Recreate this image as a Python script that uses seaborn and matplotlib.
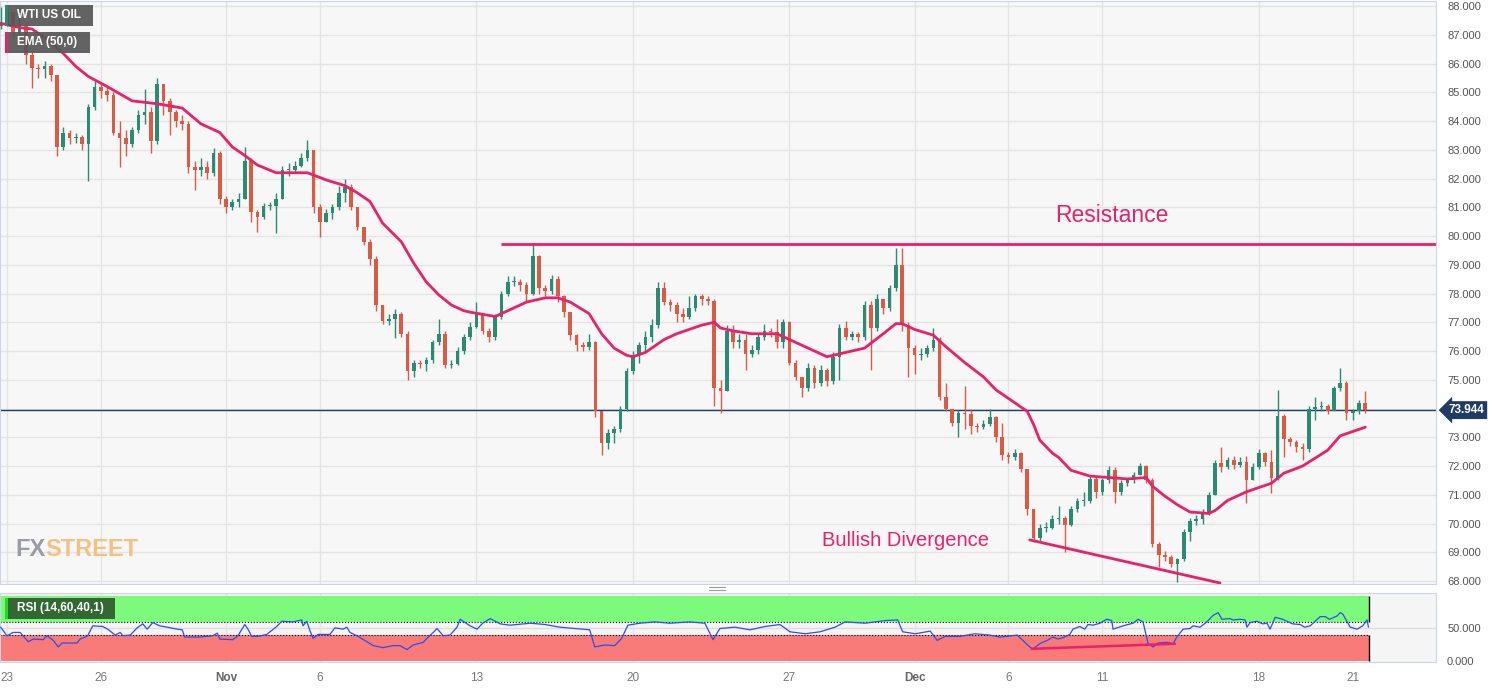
import numpy as np
import pandas as pd
import seaborn as sns
import matplotlib.pyplot as plt
from matplotlib.patches import Rectangle
from matplotlib.lines import Line2D
from matplotlib import font_manager

# ---- data ----
bars_per_day = 5
day_labels = ["23", "26", "Nov", "6", "13", "20", "27", "Dec", "6", "11", "18", "21"]
day_offsets = [0, 3, 7, 10, 15, 20, 25, 29, 32, 35, 40, 43]

first_open = 87.3
closes = [
    87.4, 87.8, 87.1, 87.3, 86.3, 85.85, 85.8, 85.9, 85.6, 83.1,
    83.6, 83.4, 83.45, 83.2, 84.5, 85.2, 85.05, 84.9, 83.6, 83.4,
    83.2, 83.7, 84.2, 84.3, 83.3, 85.3, 84.7, 84.3, 84.0, 83.9,
    82.4, 82.3, 82.4, 82.2, 82.9, 81.3, 81.0, 81.2, 81.3, 82.6,
    80.85, 80.65, 81.05, 81.05, 81.3, 82.3, 82.3, 82.45, 82.7, 83.0,
    81.0, 80.5, 80.8, 81.0, 81.5, 81.7, 81.0, 80.3, 79.8, 79.2,
    77.6, 77.05, 77.1, 77.3, 76.6, 75.3, 75.6, 75.55, 75.7, 76.3,
    76.6, 75.5, 75.55, 76.0, 76.5, 76.85, 77.3, 76.7, 76.5, 77.2,
    78.0, 78.4, 78.4, 78.3, 78.0, 79.3, 78.2, 78.1, 78.5, 77.9,
    77.35, 76.55, 76.2, 76.15, 76.3, 73.9, 72.8, 73.15, 73.3, 74.0,
    75.3, 75.85, 76.2, 76.5, 76.9, 78.2, 77.7, 77.6, 77.3, 77.2,
    77.5, 77.9, 77.8, 77.75, 74.7, 74.6, 76.7, 76.3, 76.4, 75.9,
    76.05, 76.5, 76.7, 76.65, 76.3, 77.0, 75.6, 75.1, 74.7, 75.4,
    74.9, 75.35, 74.95, 75.8, 76.8, 76.5, 76.6, 76.5, 77.6, 76.8,
    77.8, 77.5, 78.2, 79.0, 76.9, 76.1, 75.85, 75.9, 76.1, 76.4,
    74.4, 74.0, 73.5, 73.85, 73.8, 73.4, 73.35, 73.45, 73.7, 73.0,
    72.4, 72.3, 72.45, 71.9, 70.5, 69.5, 69.85, 69.85, 70.15, 70.2,
    69.95, 70.5, 70.8, 70.8, 71.55, 71.1, 71.5, 71.85, 71.1, 71.4,
    71.5, 71.7, 72.0, 71.5, 69.3, 68.9, 68.85, 68.6, 68.75, 69.7,
    70.1, 70.15, 70.4, 71.0, 72.1, 71.95, 72.2, 72.05, 72.15, 71.5,
    71.95, 72.45, 72.15, 71.6, 73.75, 72.95, 72.85, 72.65, 72.6, 74.0,
    74.05, 74.1, 73.9, 74.7, 74.9, 73.85, 73.9, 74.2, 73.944,
]
highs = [
    87.95, 88.0, 87.8, 87.95, 87.4, 86.4, 86.0, 86.1, 86.0, 85.6,
    83.8, 83.7, 83.6, 83.5, 84.6, 85.4, 85.3, 85.2, 85.0, 84.0,
    83.7, 83.8, 84.4, 85.1, 84.5, 85.5, 85.3, 84.8, 84.4, 84.2,
    84.0, 82.6, 82.7, 82.6, 83.05, 82.95, 81.4, 81.3, 81.5, 83.1,
    82.7, 80.9, 81.15, 81.2, 81.5, 82.45, 82.55, 82.6, 82.9, 83.35,
    83.0, 81.1, 80.95, 81.1, 81.75, 82.0, 81.8, 81.0, 80.3, 79.9,
    79.3, 77.6, 77.3, 77.45, 77.35, 76.7, 75.7, 75.7, 75.8, 76.4,
    77.1, 76.7, 75.7, 76.15, 76.6, 77.0, 77.7, 77.3, 76.8, 77.3,
    78.1, 78.6, 78.6, 78.5, 78.4, 79.7, 79.35, 78.3, 78.65, 78.6,
    77.95, 77.3, 76.6, 76.3, 76.6, 76.35, 73.9, 73.3, 73.4, 74.1,
    75.4, 76.0, 76.3, 76.7, 77.1, 78.4, 78.4, 77.8, 77.7, 77.5,
    77.9, 78.0, 78.0, 77.9, 77.8, 75.0, 76.9, 76.9, 76.6, 76.6,
    76.2, 76.6, 76.95, 76.8, 77.1, 77.1, 77.05, 75.7, 75.1, 75.6,
    75.5, 75.5, 75.4, 75.95, 76.95, 77.05, 76.7, 76.65, 77.75, 77.75,
    78.0, 77.8, 78.3, 79.6, 79.6, 77.0, 76.2, 76.1, 76.2, 76.8,
    76.5, 74.9, 74.0, 73.95, 74.8, 73.95, 73.5, 73.6, 74.0, 73.75,
    73.5, 72.5, 72.6, 72.5, 71.9, 70.5, 70.0, 70.05, 70.3, 70.6,
    70.25, 70.6, 70.9, 71.1, 71.7, 71.65, 71.6, 72.0, 71.95, 71.5,
    71.6, 71.8, 72.1, 72.05, 71.6, 69.35, 69.05, 68.9, 68.8, 69.8,
    70.2, 70.3, 70.5, 71.1, 72.2, 72.65, 72.3, 72.35, 72.3, 72.35,
    72.1, 72.6, 72.5, 72.55, 74.65, 73.8, 73.0, 72.9, 72.8, 74.1,
    74.4, 74.25, 74.15, 74.8, 75.4, 74.95, 74.0, 74.3, 74.6,
]
lows = [
    87.2, 87.3, 86.9, 86.8, 86.0, 85.15, 85.5, 85.5, 85.4, 82.8,
    83.0, 83.2, 83.25, 83.0, 81.9, 84.4, 84.8, 84.7, 83.5, 82.4,
    82.8, 83.1, 83.6, 83.9, 82.9, 83.2, 84.2, 83.5, 83.8, 83.7,
    82.2, 81.6, 82.1, 82.0, 82.1, 81.1, 80.8, 80.9, 81.0, 81.3,
    80.5, 80.15, 80.6, 80.9, 80.1, 81.3, 82.1, 82.2, 82.4, 82.6,
    80.8, 79.95, 80.5, 80.6, 80.9, 81.2, 80.9, 80.2, 79.7, 79.0,
    77.4, 76.95, 76.9, 76.45, 76.5, 75.0, 75.1, 75.4, 75.3, 75.6,
    76.2, 75.4, 75.4, 75.5, 75.9, 76.4, 76.8, 76.6, 76.3, 76.4,
    77.1, 77.9, 78.25, 78.1, 77.7, 77.95, 78.0, 77.9, 78.0, 77.7,
    77.2, 76.4, 76.0, 76.0, 76.05, 73.7, 72.4, 72.6, 72.8, 73.2,
    73.9, 75.2, 75.6, 76.0, 76.3, 76.8, 77.6, 77.4, 77.0, 77.0,
    77.1, 77.4, 77.6, 77.6, 74.1, 73.85, 74.6, 76.1, 76.1, 75.35,
    75.8, 75.9, 76.4, 76.5, 76.1, 76.1, 75.5, 75.0, 74.4, 74.6,
    74.7, 74.8, 74.8, 74.85, 75.0, 76.4, 76.4, 76.3, 76.4, 75.35,
    76.7, 77.3, 77.4, 78.1, 76.7, 75.1, 75.2, 75.7, 75.8, 76.0,
    74.3, 73.9, 73.4, 73.0, 73.3, 73.1, 73.2, 73.3, 73.4, 72.85,
    72.2, 72.1, 72.2, 71.8, 70.3, 69.35, 69.4, 69.7, 69.8, 70.0,
    69.0, 69.9, 70.4, 70.6, 70.7, 70.9, 71.0, 71.4, 70.7, 71.0,
    71.3, 71.4, 71.7, 71.4, 69.2, 68.5, 68.7, 68.5, 67.95, 68.7,
    69.4, 69.95, 70.0, 70.3, 71.0, 71.8, 71.9, 71.9, 71.95, 70.7,
    71.5, 71.9, 72.0, 71.05, 71.5, 72.3, 72.7, 72.5, 72.2, 72.5,
    73.6, 73.9, 73.8, 73.9, 74.6, 73.6, 73.6, 73.8, 73.85,
]

# EMA(50) as drawn, sampled along the curve (bar index, price)
ema_idx = [0, 3, 5, 7, 10, 12, 14, 17, 21, 25, 29, 32, 35, 37, 39, 41, 44, 47, 49, 52, 55,
           57, 59, 61, 64, 66, 68, 70, 72, 74, 75, 79, 82, 84, 87, 89, 91, 94, 96, 98, 100,
           101, 103, 106, 108, 110, 112, 114, 115, 117, 120, 124, 126, 129, 132, 134, 138, 141,
           143, 144, 146, 149, 151, 154, 157, 159, 162, 164, 165, 166, 168, 169, 171, 174, 177,
           180, 183, 184, 186, 188, 190, 193, 194, 196, 199, 203, 205, 208, 212, 214, 216, 218]
ema_val = [87.4, 87.25, 87.2, 86.9, 86.35, 85.9, 85.55, 85.2, 84.7, 84.6, 84.45, 83.9, 83.6,
           83.1, 82.8, 82.47, 82.2, 82.2, 82.2, 81.95, 81.75, 81.5, 81.2, 80.45, 79.8, 79.05,
           78.4, 77.95, 77.6, 77.4, 77.35, 77.2, 77.5, 77.7, 77.85, 77.85, 77.7, 77.3, 76.6,
           76.1, 75.85, 75.8, 75.95, 76.4, 76.6, 76.75, 76.9, 77.0, 76.8, 76.7, 76.6, 76.6,
           76.4, 76.1, 75.8, 75.9, 76.1, 76.6, 76.95, 76.95, 76.75, 76.55, 76.15, 75.6, 75.1,
           74.65, 74.2, 73.9, 73.45, 72.9, 72.45, 72.3, 71.85, 71.65, 71.6, 71.55, 71.6, 71.3,
           70.95, 70.65, 70.4, 70.35, 70.45, 70.8, 71.1, 71.4, 71.75, 72.0, 72.55, 73.05, 73.2,
           73.35]

# RSI(14) line (bar index, value)
rsi_idx = [0, 1, 2, 3.1, 4.4, 5.2, 6.8, 7.4, 8.4, 9.2, 9.8, 12.2, 12.7, 13.5, 13.9, 14.7, 16.3,
           17.1, 18.3, 19.1, 19.5, 20.7, 21.8, 22.7, 23.4, 24.3, 25.4, 26.6, 28.2, 29.0, 29.4,
           31.8, 33.9, 34.6, 35.0, 37.1, 37.9, 39.0, 39.5, 40.1, 41.1, 42.5, 44.1, 44.9, 46.7,
           48.1, 48.3, 48.9, 49.4, 49.9, 50.7, 52.6, 53.4, 54.7, 55.3, 55.8, 57.1, 58.5, 59.5,
           61.1, 62.7, 63.8, 64.9, 65.9, 67.5, 68.3, 69.1, 69.7, 70.7, 71.8, 72.9, 73.4, 75.0,
           76.1, 77.0, 78.2, 79.8, 81.4, 84.6, 87.0, 89.3, 91.7, 94.1, 94.9, 96.5, 98.1, 99.2,
           100.2, 102.1, 104.5, 106.9, 110.1, 112.5, 113.8, 114.9, 117.3, 119.7, 122.1, 124.5,
           126.1, 128.5, 130.9, 133.3, 134.9, 138.1, 141.3, 143.3, 144.1, 146.1, 148.5, 149.6,
           150.9, 153.2, 155.6, 158.0, 159.6, 160.8, 162.4, 163.3, 164.4, 164.9, 166.0, 167.2,
           168.1, 168.9, 169.7, 170.8, 171.3, 172.4, 173.2, 173.7, 174.5, 175.6, 176.7, 177.5,
           177.7, 179.3, 180.9, 181.7, 182.5, 183.3, 184.1, 184.9, 186.3, 187.3, 187.9, 188.9,
           190.0, 190.5, 191.6, 192.7, 193.7, 194.5, 195.1, 196.4, 196.9, 198.0, 198.8, 199.1,
           199.6, 200.7, 201.6, 202.3, 202.8, 203.6, 204.8, 206.4, 207.6, 208.3, 209.2, 210.8,
           211.6, 212.3, 213.5, 214.0, 214.4, 215.6, 216.7, 217.6, 218.3, 218.5]
rsi_val = [52, 39, 44, 44, 30, 34, 33, 39, 32, 22, 28, 28, 34, 37, 39, 54, 53,
           49, 40, 44, 39, 40, 51, 57, 49, 59, 54, 52, 49, 48, 37,
           37, 39, 43, 34, 33, 39, 56, 49, 38, 38, 41, 53, 61, 60,
           63, 54, 61, 47, 35, 41, 41, 51, 49, 52, 44, 38, 30, 24,
           21, 24, 24, 18, 25, 29, 37, 44, 50, 39, 40, 52, 64, 54,
           49, 58, 65, 57, 55, 58, 56, 52, 50, 48, 22, 25, 24, 35,
           55, 58, 60, 58, 60, 58, 33, 50, 52, 48, 53, 56,
           45, 42, 45, 52, 60, 58, 62, 63, 45, 42, 46, 32,
           38, 38, 42, 40, 37, 38, 40, 32, 22, 19, 27, 32,
           37, 34, 36, 41, 49, 53, 49, 56, 55, 58, 64, 62,
           49, 54, 58, 64, 60, 27, 22, 28, 29, 27, 37, 49,
           50, 54, 52, 60, 70, 74, 64, 65, 63, 64, 63, 52,
           59, 61, 57, 58, 49, 67, 64, 57, 56, 52, 54, 68,
           68, 64, 69, 74, 72, 52, 49, 54, 63, 52]

last_price = 73.944
resistance_level = 79.72
resistance_start = 80
div_price_idx = [164.4, 194.8]
div_price_val = [69.43, 67.93]
div_rsi_idx = [164.7, 187.6]
div_rsi_val = [19.2, 26.8]
rsi_upper, rsi_lower = 60, 40

# ---- styling ----
sns.set_style("white")
plt.rcParams['font.family'] = ['Liberation Sans', 'DejaVu Sans']

GREEN = "#2b8a72"
RED = "#da5b45"
PINK = "#e9206a"
NAVY = "#1f3b66"
GRID = "#e4e4e4"
SPINE = "#cdd4e4"

W, H = 1501, 688
fig = plt.figure(figsize=(W / 100, H / 100), dpi=100)
fig.patch.set_facecolor("white")


def fx(px):
    return px / W


def fy(py):
    return 1 - py / H


ax = fig.add_axes([0, fy(584), fx(1436), fy(1) - fy(584)])
ax2 = fig.add_axes([0, fy(662), fx(1436), fy(593) - fy(662)])
x_lo, x_hi = -0.11, 229.3

n = len(closes)
idx = np.arange(n)
c = np.array(closes)
o = np.array([first_open] + closes[:-1])
hi = np.array(highs)
lo = np.array(lows)
colors = np.where(c >= o, GREEN, RED)

ax.set_facecolor("#f7f7f7")
ax.vlines(idx, lo, hi, colors=colors, lw=1, zorder=3)
ax.bar(idx, np.maximum(np.abs(c - o), 0.03), bottom=np.minimum(o, c), width=0.58,
       color=colors, linewidth=0, zorder=4)

sns.lineplot(x=ema_idx, y=ema_val, ax=ax, color=PINK, lw=2, zorder=5,
             solid_joinstyle="round", solid_capstyle="round")
ax.hlines(resistance_level, resistance_start, x_hi, color=PINK, lw=2, zorder=5)
ax.plot(div_price_idx, div_price_val, color=PINK, lw=2, zorder=5)
ax.axhline(last_price, color=NAVY, lw=1, zorder=2)

ax.text(177.5, 80.7, "Resistance", color=PINK, fontsize=16.5, ha="center", va="center")
ax.text(144.5, 69.4, "Bullish Divergence", color=PINK, fontsize=14.5, ha="center", va="center")

tick_pos = [d * bars_per_day + 1 for d in day_offsets]
ax.set_xlim(x_lo, x_hi)
ax.set_ylim(67.896, 88.174)
ax.set_xticks(tick_pos)
ax.tick_params(axis="x", labelbottom=False, length=0)
ax.yaxis.tick_right()
price_ticks = list(range(68, 89))
ax.set_yticks(price_ticks)
# the 74 label sits under the last-price tag, as in the source chart
ax.set_yticklabels(["" if v == 74 else f"{v:.3f}" for v in price_ticks])
ax.tick_params(axis="y", length=0, pad=8, labelsize=8, labelcolor="#555555")
ax.grid(True, color=GRID, lw=1)
ax.set_axisbelow(True)
ax.set_xlabel("")
ax.set_ylabel("")
for s in ax.spines.values():
    s.set_color(SPINE)

ax.annotate(f"{last_price:.3f}", xy=(1, last_price), xycoords=("axes fraction", "data"),
            xytext=(9, 0), textcoords="offset points", ha="left", va="center",
            color="white", fontsize=8.5, fontweight="bold", annotation_clip=False,
            bbox=dict(boxstyle="larrow,pad=0.25", fc=NAVY, ec="none"))

# ---- RSI panel ----
ax2.set_facecolor("#f5f5f5")
band_end = 218.6
ax2.fill_between([x_lo, band_end], rsi_upper, 100, color="#7cfa7c", lw=0, zorder=1)
ax2.fill_between([x_lo, band_end], 0, rsi_lower, color="#f87b7a", lw=0, zorder=1)
ax2.hlines([rsi_upper, rsi_lower], x_lo, band_end, colors="black", lw=0.8,
           linestyles=":", zorder=2)
ax2.vlines(band_end, rsi_upper, 100, colors="black", lw=1, zorder=2)
ax2.vlines(band_end, 0, rsi_lower, colors="black", lw=1, zorder=2)
ax2.axhline(50, color="#dddddd", lw=1, zorder=0)
sns.lineplot(x=rsi_idx, y=rsi_val, ax=ax2, color="#2b4df2", lw=0.9, zorder=3)
ax2.plot(div_rsi_idx, div_rsi_val, color=PINK, lw=1.8, zorder=4)

ax2.set_xlim(x_lo, x_hi)
ax2.set_ylim(-0.8, 103.8)
ax2.set_xticks(tick_pos)
ax2.set_xticklabels(day_labels)
ax2.tick_params(axis="x", length=0, pad=7, labelsize=8.5, labelcolor="#777777")
for lab in ax2.get_xticklabels():
    if lab.get_text() in ("Nov", "Dec"):
        lab.set_fontweight("bold")
        lab.set_color("#666666")
ax2.yaxis.tick_right()
ax2.set_yticks([0, 50])
ax2.set_yticklabels(["0.000", "50.000"])
ax2.tick_params(axis="y", length=0, pad=8, labelsize=8, labelcolor="#555555")
ax2.grid(True, axis="x", color=GRID, lw=1)
ax2.set_axisbelow(True)
ax2.set_xlabel("")
ax2.set_ylabel("")
for s in ax2.spines.values():
    s.set_color(SPINE)

# ---- label boxes ----
def label_box(x0, y0, x1, y1, fc, strip, text):
    fig.patches.append(Rectangle((fx(x0), fy(y1)), fx(x1) - fx(x0), fy(y0) - fy(y1),
                                 transform=fig.transFigure, fc=fc, ec="none", alpha=0.92,
                                 zorder=10))
    fig.patches.append(Rectangle((fx(x0), fy(y1)), fx(3), fy(y0) - fy(y1),
                                 transform=fig.transFigure, fc=strip, ec="none", zorder=11))
    fig.text(fx(x0 + 12), fy((y0 + y1) / 2), text, color="white", fontsize=8.5,
             fontweight="bold", ha="left", va="center", zorder=12)


label_box(5, 5, 93, 26, "#565656", GREEN, "WTI US OIL")
label_box(5, 32, 90, 53, "#565656", PINK, "EMA (50,0)")
label_box(5, 598, 115, 619, "#2d5b2d", "#19e019", "RSI (14,60,40,1)")

# ---- watermark ----
names = {f.name for f in font_manager.fontManager.ttflist}
logo_font = "Liberation Sans Narrow" if "Liberation Sans Narrow" in names else "Liberation Sans"
fx_txt = fig.text(fx(15), fy(550), "FX", color="#9a9ca3", fontsize=17, fontweight="bold",
                  family=logo_font, ha="left", va="center", fontstretch="condensed")
ax.annotate("STREET", xy=(1, 0.5), xycoords=fx_txt, ha="left", va="center",
            color="#f2c183", fontsize=17, fontweight="bold", family=logo_font,
            fontstretch="condensed", annotation_clip=False)

# pane handle
for yy in (587, 590):
    fig.add_artist(Line2D([fx(709), fx(725)], [fy(yy), fy(yy)], color="#9a9a9a", lw=0.8))

fig.savefig("out.png", dpi=100)
